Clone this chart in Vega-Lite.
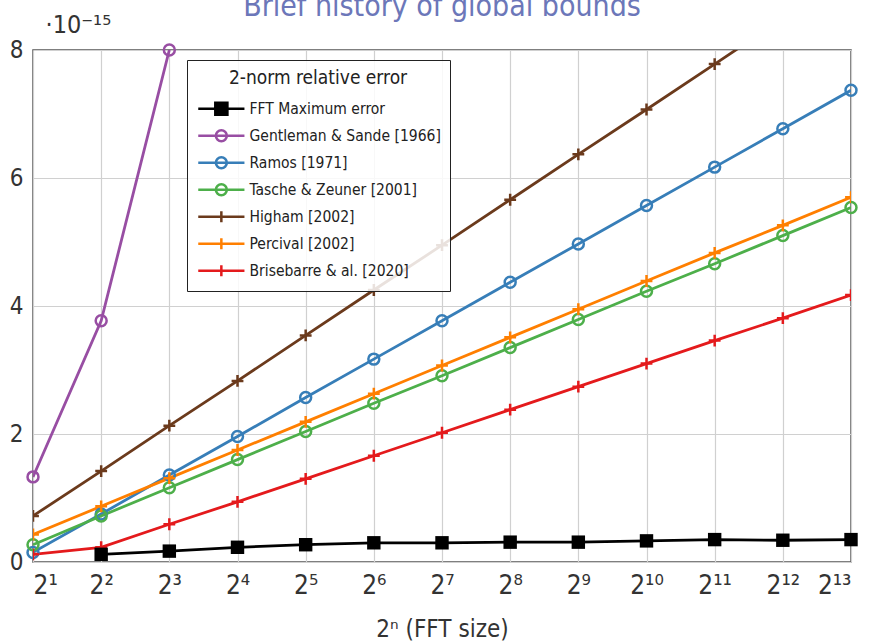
{
  "$schema": "https://vega.github.io/schema/vega-lite/v6.json",
  "width": 818,
  "height": 512,
  "autosize": "none",
  "padding": {"left": 33, "top": 50, "right": 20, "bottom": 82},
  "title": {"text": "Brief history of global bounds", "fontSize": 30, "font": "DejaVu Sans Condensed", "fontWeight": "normal", "color": "#6c77b9", "anchor": "middle", "frame": "group", "baseline": "alphabetic", "offset": 0, "dy": 34},
  "config": {
    "view": {"stroke": "#555555", "strokeWidth": 1.5},
    "font": "DejaVu Sans Condensed",
    "axis": {"gridColor": "#d0d0d0", "gridWidth": 1.2, "domain": false, "ticks": false, "labelColor": "#333333", "titleColor": "#333333", "labelFont": "DejaVu Sans Condensed", "titleFont": "DejaVu Sans Condensed", "titleFontWeight": "normal"}
  },
  "data": {"values": [
    {"n": 2, "v": 0.12, "s": "FFT Maximum error"},
    {"n": 3, "v": 0.17, "s": "FFT Maximum error"},
    {"n": 4, "v": 0.23, "s": "FFT Maximum error"},
    {"n": 5, "v": 0.27, "s": "FFT Maximum error"},
    {"n": 6, "v": 0.30, "s": "FFT Maximum error"},
    {"n": 7, "v": 0.30, "s": "FFT Maximum error"},
    {"n": 8, "v": 0.31, "s": "FFT Maximum error"},
    {"n": 9, "v": 0.31, "s": "FFT Maximum error"},
    {"n": 10, "v": 0.33, "s": "FFT Maximum error"},
    {"n": 11, "v": 0.35, "s": "FFT Maximum error"},
    {"n": 12, "v": 0.34, "s": "FFT Maximum error"},
    {"n": 13, "v": 0.35, "s": "FFT Maximum error"},
    {"n": 1, "v": 1.33, "s": "Gentleman & Sande [1966]"},
    {"n": 2, "v": 3.77, "s": "Gentleman & Sande [1966]"},
    {"n": 3, "v": 8.0, "s": "Gentleman & Sande [1966]"},
    {"n": 1, "v": 0.15, "s": "Ramos [1971]"},
    {"n": 2, "v": 0.75, "s": "Ramos [1971]"},
    {"n": 3, "v": 1.36, "s": "Ramos [1971]"},
    {"n": 4, "v": 1.96, "s": "Ramos [1971]"},
    {"n": 5, "v": 2.57, "s": "Ramos [1971]"},
    {"n": 6, "v": 3.17, "s": "Ramos [1971]"},
    {"n": 7, "v": 3.77, "s": "Ramos [1971]"},
    {"n": 8, "v": 4.37, "s": "Ramos [1971]"},
    {"n": 9, "v": 4.97, "s": "Ramos [1971]"},
    {"n": 10, "v": 5.57, "s": "Ramos [1971]"},
    {"n": 11, "v": 6.17, "s": "Ramos [1971]"},
    {"n": 12, "v": 6.77, "s": "Ramos [1971]"},
    {"n": 13, "v": 7.37, "s": "Ramos [1971]"},
    {"n": 1, "v": 0.27, "s": "Tasche & Zeuner [2001]"},
    {"n": 2, "v": 0.72, "s": "Tasche & Zeuner [2001]"},
    {"n": 3, "v": 1.16, "s": "Tasche & Zeuner [2001]"},
    {"n": 4, "v": 1.60, "s": "Tasche & Zeuner [2001]"},
    {"n": 5, "v": 2.04, "s": "Tasche & Zeuner [2001]"},
    {"n": 6, "v": 2.48, "s": "Tasche & Zeuner [2001]"},
    {"n": 7, "v": 2.91, "s": "Tasche & Zeuner [2001]"},
    {"n": 8, "v": 3.35, "s": "Tasche & Zeuner [2001]"},
    {"n": 9, "v": 3.79, "s": "Tasche & Zeuner [2001]"},
    {"n": 10, "v": 4.23, "s": "Tasche & Zeuner [2001]"},
    {"n": 11, "v": 4.66, "s": "Tasche & Zeuner [2001]"},
    {"n": 12, "v": 5.10, "s": "Tasche & Zeuner [2001]"},
    {"n": 13, "v": 5.54, "s": "Tasche & Zeuner [2001]"},
    {"n": 1, "v": 0.72, "s": "Higham [2002]"},
    {"n": 2, "v": 1.42, "s": "Higham [2002]"},
    {"n": 3, "v": 2.13, "s": "Higham [2002]"},
    {"n": 4, "v": 2.83, "s": "Higham [2002]"},
    {"n": 5, "v": 3.54, "s": "Higham [2002]"},
    {"n": 6, "v": 4.25, "s": "Higham [2002]"},
    {"n": 7, "v": 4.95, "s": "Higham [2002]"},
    {"n": 8, "v": 5.66, "s": "Higham [2002]"},
    {"n": 9, "v": 6.37, "s": "Higham [2002]"},
    {"n": 10, "v": 7.07, "s": "Higham [2002]"},
    {"n": 11, "v": 7.78, "s": "Higham [2002]"},
    {"n": 12, "v": 8.49, "s": "Higham [2002]"},
    {"n": 1, "v": 0.43, "s": "Percival [2002]"},
    {"n": 2, "v": 0.87, "s": "Percival [2002]"},
    {"n": 3, "v": 1.31, "s": "Percival [2002]"},
    {"n": 4, "v": 1.75, "s": "Percival [2002]"},
    {"n": 5, "v": 2.19, "s": "Percival [2002]"},
    {"n": 6, "v": 2.63, "s": "Percival [2002]"},
    {"n": 7, "v": 3.07, "s": "Percival [2002]"},
    {"n": 8, "v": 3.51, "s": "Percival [2002]"},
    {"n": 9, "v": 3.95, "s": "Percival [2002]"},
    {"n": 10, "v": 4.39, "s": "Percival [2002]"},
    {"n": 11, "v": 4.83, "s": "Percival [2002]"},
    {"n": 12, "v": 5.26, "s": "Percival [2002]"},
    {"n": 13, "v": 5.70, "s": "Percival [2002]"},
    {"n": 1, "v": 0.12, "s": "Brisebarre & al. [2020]"},
    {"n": 2, "v": 0.23, "s": "Brisebarre & al. [2020]"},
    {"n": 3, "v": 0.59, "s": "Brisebarre & al. [2020]"},
    {"n": 4, "v": 0.94, "s": "Brisebarre & al. [2020]"},
    {"n": 5, "v": 1.30, "s": "Brisebarre & al. [2020]"},
    {"n": 6, "v": 1.66, "s": "Brisebarre & al. [2020]"},
    {"n": 7, "v": 2.02, "s": "Brisebarre & al. [2020]"},
    {"n": 8, "v": 2.38, "s": "Brisebarre & al. [2020]"},
    {"n": 9, "v": 2.74, "s": "Brisebarre & al. [2020]"},
    {"n": 10, "v": 3.10, "s": "Brisebarre & al. [2020]"},
    {"n": 11, "v": 3.46, "s": "Brisebarre & al. [2020]"},
    {"n": 12, "v": 3.81, "s": "Brisebarre & al. [2020]"},
    {"n": 13, "v": 4.17, "s": "Brisebarre & al. [2020]"}
  ]},
  "encoding": {
    "x": {"field": "n", "type": "quantitative",
      "scale": {"domain": [1, 13], "nice": false, "zero": false},
      "axis": {"values": [1,2,3,4,5,6,7,8,9,10,11,12,13], "labelFontSize": 26, "labelPadding": 10,
        "labelExpr": "'2' + (datum.value >= 10 ? '¹' : '') + ['⁰','¹','²','³','⁴','⁵','⁶','⁷','⁸','⁹'][datum.value % 10]",
        "title": "2ⁿ (FFT size)", "titleFontSize": 24, "titlePadding": 19}},
    "y": {"field": "v", "type": "quantitative",
      "scale": {"domain": [0, 8], "nice": false},
      "axis": {"values": [0,2,4,6,8], "labelFontSize": 24, "labelPadding": 10,
        "title": "·10⁻¹⁵", "titleFontSize": 25, "titleAngle": 0, "titleAlign": "left", "titleBaseline": "alphabetic", "titleX": 12, "titleY": -18}}
  },
  "layer": [
    {"transform": [{"filter": "false"}],
     "mark": {"type": "point", "opacity": 1, "strokeWidth": 2.5, "filled": false},
     "encoding": {
       "color": {"field": "s", "type": "nominal", "title": "2-norm relative error",
         "scale": {"domain": ["FFT Maximum error", "Gentleman & Sande [1966]", "Ramos [1971]", "Tasche & Zeuner [2001]", "Higham [2002]", "Percival [2002]", "Brisebarre & al. [2020]"],
           "range": ["#000000", "#984ea3", "#377eb8", "#4daf4a", "#6b3a1c", "#ff7f00", "#e41a1c"]},
         "legend": {"orient": "none", "legendX": 154, "legendY": 10, "fillColor": "rgba(255,255,255,0.85)", "strokeColor": "#222222", "padding": 9,
           "titleFontSize": 19, "titleFontWeight": "normal", "titleColor": "#222222", "titleAnchor": "middle", "titlePadding": 13,
           "labelFontSize": 15.5, "labelColor": "#222222", "labelOffset": 38, "labelLimit": 400, "symbolSize": 121, "symbolStrokeWidth": 2.5, "symbolFillColor": "transparent", "rowPadding": 5, "symbolOpacity": 1}},
       "shape": {"field": "s", "type": "nominal", "title": "2-norm relative error",
         "scale": {"domain": ["FFT Maximum error", "Gentleman & Sande [1966]", "Ramos [1971]", "Tasche & Zeuner [2001]", "Higham [2002]", "Percival [2002]", "Brisebarre & al. [2020]"],
           "range": ["M-1,0H7.4M2.1,-1.1H4.3V1.1H2.1ZM2.1,-0.55H4.3M2.1,0.55H4.3",
             "M-1,0H7.4M4.2,0A1,1,0,1,1,2.2,0A1,1,0,1,1,4.2,0ZM4.18,0A0.98,0.98,0,1,0,2.22,0A0.98,0.98,0,1,0,4.18,0Z",
             "M-1,0H7.4M4.2,0A1,1,0,1,1,2.2,0A1,1,0,1,1,4.2,0ZM4.18,0A0.98,0.98,0,1,0,2.22,0A0.98,0.98,0,1,0,4.18,0Z",
             "M-1,0H7.4M4.2,0A1,1,0,1,1,2.2,0A1,1,0,1,1,4.2,0ZM4.18,0A0.98,0.98,0,1,0,2.22,0A0.98,0.98,0,1,0,4.18,0Z",
             "M-1,0H7.4M3.2,-1V1", "M-1,0H7.4M3.2,-1V1", "M-1,0H7.4M3.2,-1V1"]}}
     }},
    {"mark": {"type": "line", "strokeWidth": 2.8, "clip": true},
     "encoding": {"color": {"field": "s", "type": "nominal", "title": "2-norm relative error"}}},
    {"transform": [{"filter": {"field": "s", "oneOf": ["Gentleman & Sande [1966]", "Ramos [1971]", "Tasche & Zeuner [2001]"]}}],
     "mark": {"type": "point", "shape": "circle", "filled": false, "size": 120, "strokeWidth": 2.5, "opacity": 1},
     "encoding": {"color": {"field": "s", "type": "nominal", "title": "2-norm relative error"}}},
    {"transform": [{"filter": {"field": "s", "oneOf": ["Higham [2002]", "Percival [2002]", "Brisebarre & al. [2020]"]}}],
     "mark": {"type": "point", "shape": "M-1,0H1M0,-1V1", "filled": false, "size": 140, "strokeWidth": 2.5, "opacity": 1, "clip": true},
     "encoding": {"color": {"field": "s", "type": "nominal", "title": "2-norm relative error"}}},
    {"transform": [{"filter": {"field": "s", "equal": "FFT Maximum error"}}],
     "mark": {"type": "point", "shape": "square", "filled": true, "size": 180, "opacity": 1},
     "encoding": {"color": {"field": "s", "type": "nominal", "title": "2-norm relative error"}}}
  ]
}
